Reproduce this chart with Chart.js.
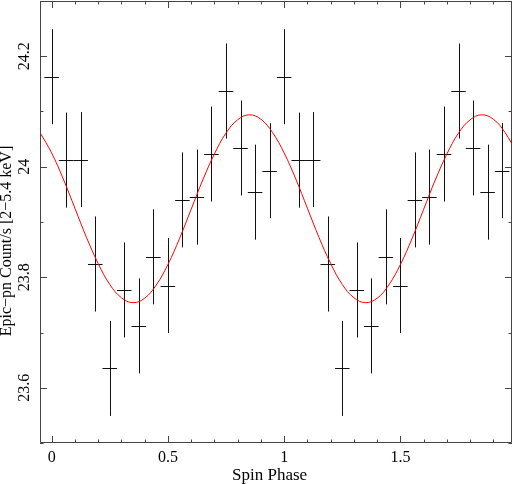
<!DOCTYPE html>
<html>
<head>
<meta charset="utf-8">
<script src="https://cdn.jsdelivr.net/npm/chart.js@4.4.0/dist/chart.umd.min.js"></script>
<style>
    html, body { margin: 0; padding: 0; background: #fff; }
    canvas { display: block; }
</style>
</head>
<body>
<canvas id="myChart" width="513" height="484"></canvas>
<script>
// folded light curve, two cycles, 16 bins per cycle
const phase = [
    0, 0.0625, 0.125, 0.1875, 0.25, 0.3125, 0.375, 0.4375,
    0.5, 0.5625, 0.625, 0.6875, 0.75, 0.8125, 0.875, 0.9375,
    1, 1.0625, 1.125, 1.1875, 1.25, 1.3125, 1.375, 1.4375,
    1.5, 1.5625, 1.625, 1.6875, 1.75, 1.8125, 1.875, 1.9375
]
const rate = [
    24.163, 24.012, 24.013, 23.824, 23.635, 23.777, 23.712, 23.837,
    23.785, 23.940, 23.945, 24.023, 24.137, 24.034, 23.954, 23.993,
    24.163, 24.012, 24.013, 23.824, 23.635, 23.777, 23.712, 23.837,
    23.785, 23.940, 23.945, 24.023, 24.137, 24.034, 23.954, 23.993
]
const rate_err = [
    0.086, 0.086, 0.086, 0.086, 0.086, 0.086, 0.086, 0.086,
    0.086, 0.086, 0.086, 0.086, 0.086, 0.086, 0.086, 0.086,
    0.086, 0.086, 0.086, 0.086, 0.086, 0.086, 0.086, 0.086,
    0.086, 0.086, 0.086, 0.086, 0.086, 0.086, 0.086, 0.086
]
const bin_halfwidth = 0.03125

// red model curve
const fit_phase = [
    -0.05, 0, 0.05, 0.1, 0.15, 0.2, 0.25, 0.3, 0.35, 0.4, 0.45,
    0.5, 0.55, 0.6, 0.65, 0.7, 0.75, 0.8, 0.85, 0.9, 0.95,
    1, 1.05, 1.1, 1.15, 1.2, 1.25, 1.3, 1.35, 1.4, 1.45,
    1.5, 1.55, 1.6, 1.65, 1.7, 1.75, 1.8, 1.85, 1.9, 1.95, 2
]
const fit_rate = [
    24.062, 24.025, 23.978, 23.925, 23.872, 23.825, 23.787, 23.763, 23.754, 23.762, 23.786,
    23.823, 23.870, 23.923, 23.976, 24.023, 24.061, 24.085, 24.094, 24.086, 24.062,
    24.025, 23.978, 23.925, 23.872, 23.825, 23.787, 23.763, 23.754, 23.762, 23.786,
    23.823, 23.870, 23.923, 23.976, 24.023, 24.061, 24.085, 24.094, 24.086, 24.062, 24.025
]

const x_labels = [0, 0.5, 1, 1.5]
const y_labels = [23.6, 23.8, 24, 24.2]
const x_title = 'Spin Phase'
const y_title = 'Epic\u2212pn Count/s [2\u22125.4 keV]'

const font = { family: "'Liberation Serif', 'DejaVu Serif', serif", size: 16 }
const near = (list, v) => list.some(t => Math.abs(t - v) < 1e-6)
const fmt = v => String(Number(v.toFixed(2)))

// crosses: vertical = count rate error, horizontal = bin width
const errorBars = {
    id: 'errorBars',
    beforeDatasetsDraw(chart) {
        const { ctx, scales: { x, y } } = chart
        const pts = chart.data.datasets[1].data
        ctx.save()
        ctx.strokeStyle = '#111'
        ctx.lineWidth = 1
        ctx.beginPath()
        pts.forEach(p => {
            const px = Math.round(x.getPixelForValue(p.x)) + 0.5
            const py = Math.round(y.getPixelForValue(p.y)) + 0.5
            ctx.moveTo(px, y.getPixelForValue(p.y + p.err))
            ctx.lineTo(px, y.getPixelForValue(p.y - p.err))
            ctx.moveTo(x.getPixelForValue(p.x - p.dx), py)
            ctx.lineTo(x.getPixelForValue(p.x + p.dx), py)
        })
        ctx.stroke()
        ctx.restore()
    }
}

// frame with inward ticks on all four sides, rotated y labels and title
const frame = {
    id: 'frame',
    afterDraw(chart) {
        const { ctx, chartArea: a, scales: { x, y } } = chart
        ctx.save()
        ctx.strokeStyle = '#444'
        ctx.lineWidth = 1
        ctx.beginPath()
        ctx.rect(a.left + 0.5, a.top + 0.5, a.right - a.left - 1, a.bottom - a.top - 1)
        x.ticks.forEach(t => {
            const len = near(x_labels, t.value) ? 7 : 3.5
            const px = Math.round(x.getPixelForValue(t.value)) + 0.5
            ctx.moveTo(px, a.bottom)
            ctx.lineTo(px, a.bottom - len)
            ctx.moveTo(px, a.top)
            ctx.lineTo(px, a.top + len)
        })
        y.ticks.forEach(t => {
            const len = near(y_labels, t.value) ? 7 : 3.5
            const py = Math.round(y.getPixelForValue(t.value)) + 0.5
            ctx.moveTo(a.left, py)
            ctx.lineTo(a.left + len, py)
            ctx.moveTo(a.right, py)
            ctx.lineTo(a.right - len, py)
        })
        ctx.stroke()

        ctx.fillStyle = '#000'
        ctx.font = `${font.size}px ${font.family}`
        ctx.textAlign = 'center'
        ctx.textBaseline = 'middle'
        y.ticks.forEach(t => {
            if (!t.label) return
            ctx.save()
            ctx.translate(a.left - 15, y.getPixelForValue(t.value))
            ctx.rotate(-Math.PI / 2)
            ctx.fillText(t.label, 0, 0)
            ctx.restore()
        })
        ctx.translate(7, 241)
        ctx.rotate(-Math.PI / 2)
        ctx.fillText(y_title, 0, 0)
        ctx.restore()
    }
}

const ctx = document.getElementById('myChart').getContext('2d')

const myChart = new Chart(ctx, {
    type: 'line',
    data: {
        datasets: [
            {
                label: 'model',
                data: fit_phase.map((p, i) => ({ x: p, y: fit_rate[i] })),
                borderColor: '#ff0000',
                borderWidth: 1,
                pointRadius: 0,
                tension: 0.4,
                fill: false,
            },
            {
                label: 'data',
                data: phase.map((p, i) => ({ x: p, y: rate[i], err: rate_err[i], dx: bin_halfwidth })),
                showLine: false,
                pointRadius: 0,
            }
        ]
    },
    options: {
        responsive: false,
        animation: false,
        layout: { padding: { top: 1, right: 1, left: 0, bottom: 0 } },
        plugins: {
            legend: { display: false },
            tooltip: { enabled: false },
        },
        scales: {
            x: {
                type: 'linear',
                min: -0.05,
                max: 1.98,
                grid: { display: false, drawTicks: false },
                border: { display: false },
                ticks: {
                    stepSize: 0.1,
                    includeBounds: false,
                    autoSkip: false,
                    maxRotation: 0,
                    padding: 5,
                    color: '#000',
                    font,
                    callback: v => near(x_labels, v) ? fmt(v) : '',
                },
                title: {
                    display: true,
                    text: x_title + '   ',
                    color: '#000',
                    font: { family: font.family, size: 17 },
                    padding: { top: 0, bottom: -2 },
                },
                afterFit(s) {
                    s.height = 41
                    s.paddingLeft = 0
                    s.paddingRight = 0
                },
            },
            y: {
                type: 'linear',
                min: 23.5,
                max: 24.3,
                grid: { display: false, drawTicks: false },
                border: { display: false },
                ticks: {
                    stepSize: 0.1,
                    includeBounds: false,
                    autoSkip: false,
                    // labels are drawn rotated by the frame plugin
                    color: 'rgba(0,0,0,0)',
                    font,
                    callback: v => near(y_labels, v) ? fmt(v) : '',
                },
                title: { display: false, text: y_title },
                afterFit(s) {
                    s.width = 40
                    s.paddingTop = 0
                    s.paddingBottom = 0
                },
            }
        }
    },
    plugins: [errorBars, frame],
})
</script>
</body>
</html>
